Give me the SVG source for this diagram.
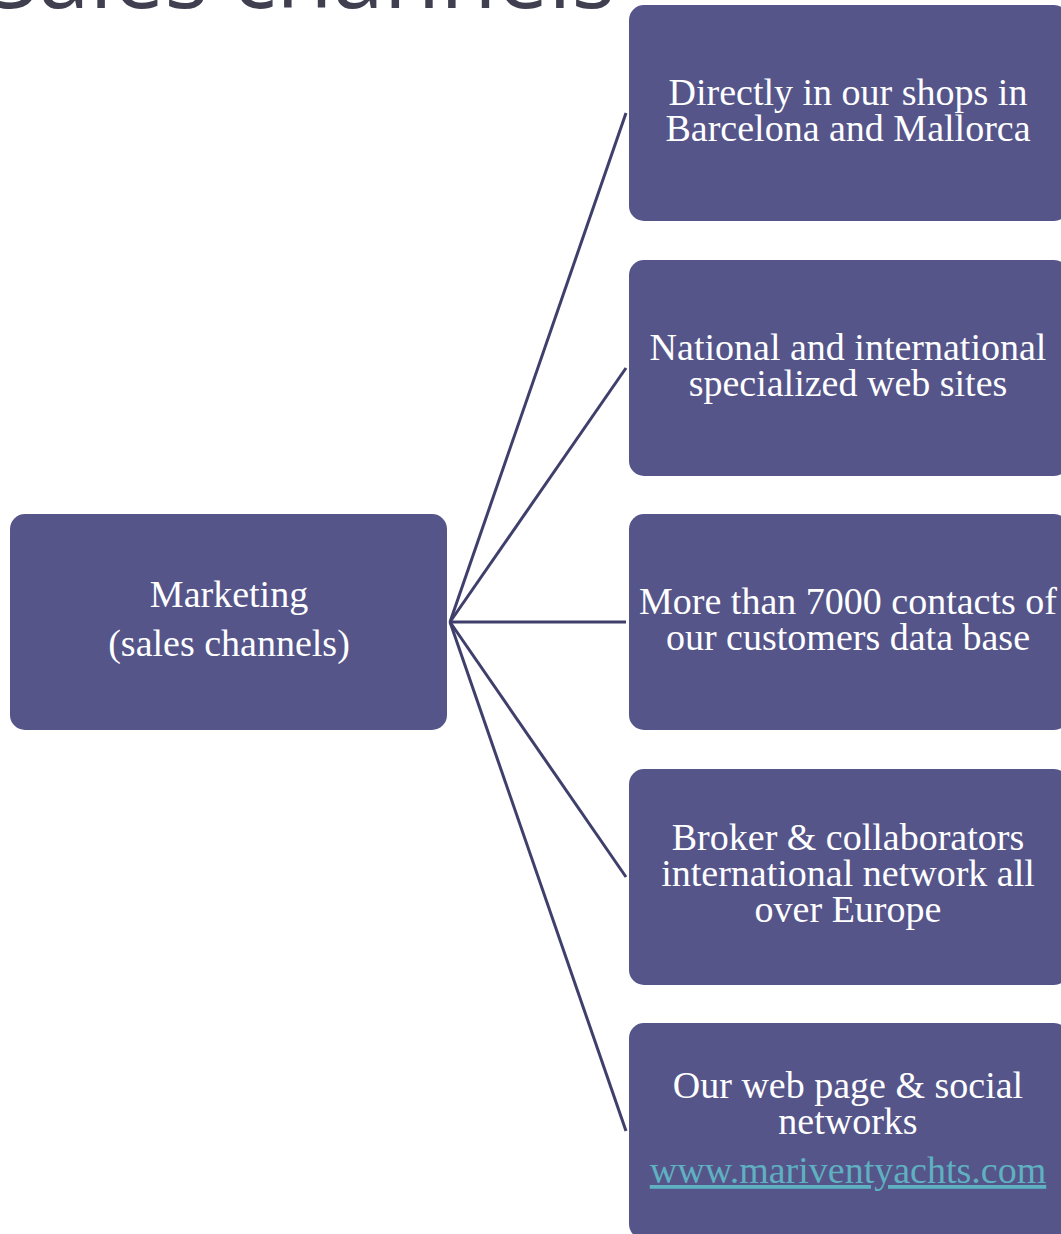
<svg xmlns="http://www.w3.org/2000/svg" width="1061" height="1234" viewBox="0 0 1061 1234">
<style>
.box{fill:#55558a;}
.t{font-family:"Liberation Serif","DejaVu Serif",serif;font-size:38px;fill:#ffffff;text-anchor:middle;}
.link{fill:#5fb0c0;text-decoration:underline;}
.conn{stroke:#3f3f6c;stroke-width:3;fill:none;}
.title{font-family:"Open Sans","DejaVu Sans",sans-serif;font-size:92px;fill:#3f3f50;}
</style>
<rect width="1061" height="1234" fill="#ffffff"/>
<text class="title" x="-12" y="8">Sales channels</text>
<g id="connectors">
<line class="conn" x1="450" y1="622" x2="626" y2="113"/>
<line class="conn" x1="450" y1="622" x2="626" y2="368"/>
<line class="conn" x1="450" y1="622" x2="626" y2="622"/>
<line class="conn" x1="450" y1="622" x2="626" y2="877"/>
<line class="conn" x1="450" y1="622" x2="626" y2="1131"/>
</g>
<g id="marketing">
<rect class="box" x="10" y="514" width="437" height="216" rx="15"/>
<text class="t" x="229" y="607">Marketing</text>
<text class="t" x="229" y="656">(sales channels)</text>
</g>
<g id="shops">
<rect class="box" x="629" y="5" width="440" height="216" rx="15"/>
<text class="t" x="848" y="105">Directly in our shops in</text>
<text class="t" x="848" y="141">Barcelona and Mallorca</text>
</g>
<g id="websites">
<rect class="box" x="629" y="260" width="440" height="216" rx="15"/>
<text class="t" x="848" y="360">National and international</text>
<text class="t" x="848" y="396">specialized web sites</text>
</g>
<g id="contacts">
<rect class="box" x="629" y="514" width="440" height="216" rx="15"/>
<text class="t" x="848" y="614">More than 7000 contacts of</text>
<text class="t" x="848" y="650">our customers data base</text>
</g>
<g id="broker">
<rect class="box" x="629" y="769" width="440" height="216" rx="15"/>
<text class="t" x="848" y="850">Broker &amp; collaborators</text>
<text class="t" x="848" y="886">international network all</text>
<text class="t" x="848" y="922">over Europe</text>
</g>
<g id="web">
<rect class="box" x="629" y="1023" width="440" height="216" rx="15"/>
<text class="t" x="848" y="1098">Our web page &amp; social</text>
<text class="t" x="848" y="1134">networks</text>
<text class="t link" x="848" y="1183">www.mariventyachts.com</text>
</g>
</svg>
